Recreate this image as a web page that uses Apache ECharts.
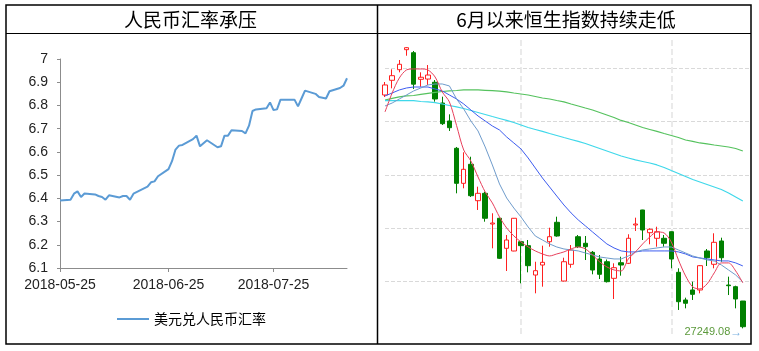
<!DOCTYPE html>
<html><head><meta charset="utf-8">
<script src="https://cdn.jsdelivr.net/npm/echarts@6/dist/echarts.min.js"></script>
<style>html,body{margin:0;padding:0;background:#fff}#c{width:759px;height:351px}</style>
</head><body><div id="c"></div>
<script>
// ---- Left panel: USD/CNY ----
const rateDates = ['2018-05-25','2018-05-28','2018-05-29','2018-05-30','2018-05-31','2018-06-01','2018-06-04','2018-06-05','2018-06-06','2018-06-07','2018-06-08','2018-06-11','2018-06-12','2018-06-13','2018-06-14','2018-06-15','2018-06-19','2018-06-20','2018-06-21','2018-06-22','2018-06-25','2018-06-26','2018-06-27','2018-06-28','2018-06-29','2018-07-02','2018-07-03','2018-07-04','2018-07-05','2018-07-06','2018-07-09','2018-07-10','2018-07-11','2018-07-12','2018-07-13','2018-07-16','2018-07-17','2018-07-18','2018-07-19','2018-07-20','2018-07-23','2018-07-24','2018-07-25','2018-07-26','2018-07-27','2018-07-30','2018-07-31','2018-08-01','2018-08-02','2018-08-03','2018-08-06','2018-08-07','2018-08-08','2018-08-09','2018-08-10','2018-08-13','2018-08-14','2018-08-15'];
const rateValues = [6.391,6.394,6.420,6.430,6.406,6.421,6.417,6.410,6.406,6.394,6.413,6.404,6.410,6.410,6.394,6.420,6.450,6.469,6.473,6.495,6.526,6.560,6.610,6.627,6.630,6.655,6.670,6.624,6.637,6.650,6.620,6.624,6.670,6.670,6.693,6.690,6.680,6.713,6.776,6.783,6.788,6.813,6.780,6.783,6.825,6.825,6.825,6.796,6.830,6.864,6.850,6.836,6.833,6.830,6.861,6.875,6.885,6.917];
const rateTickDates = ['2018-05-25','2018-06-25','2018-07-25'];
const rateSeriesName = '美元兑人民币汇率';

// ---- Right panel: Hang Seng Index daily K ----
const kDates = ['2018-06-04','2018-06-05','2018-06-06','2018-06-07','2018-06-08','2018-06-11','2018-06-12','2018-06-13','2018-06-14','2018-06-15','2018-06-19','2018-06-20','2018-06-21','2018-06-22','2018-06-25','2018-06-26','2018-06-27','2018-06-28','2018-06-29','2018-07-03','2018-07-04','2018-07-05','2018-07-06','2018-07-09','2018-07-10','2018-07-11','2018-07-12','2018-07-13','2018-07-16','2018-07-17','2018-07-18','2018-07-19','2018-07-20','2018-07-23','2018-07-24','2018-07-25','2018-07-26','2018-07-27','2018-07-30','2018-07-31','2018-08-01','2018-08-02','2018-08-03','2018-08-06','2018-08-07','2018-08-08','2018-08-09','2018-08-10','2018-08-13','2018-08-14','2018-08-15',''];
const kOpen  = [30794,31017,31178,31482,31436,31032,31036,30987,30672,30399,29984,29452,29741,29188,29300,28834,28921,28465,28424,28565,28505,28059,28211,28565,28860,27968,28222,28641,28541,28404,28302,28261,28009,28246,28237,28819,29047,28702,28617,28617,28717,28100,27680,27832,27832,28424,28222,28576,27907,27882,27664];
const kClose = [30946,31087,31260,31512,30958,31063,31097,30733,30358,30297,29452,29665,29264,29300,28921,28849,28313,28591,28921,28505,28201,28125,28252,28641,28652,28261,28439,28489,28489,28135,28070,27958,28170,28211,28617,28834,28743,28754,28717,28541,28302,27654,27630,27766,28201,28322,28556,28322,27897,27695,27274];
const kLow   = [30763,30895,31138,31390,30885,30919,30946,30692,30338,30247,29300,29376,29244,29047,28869,28465,28302,28120,28420,27933,28100,27781,27882,28489,28641,27960,28170,28469,28287,28070,27998,27945,27695,28049,28226,28728,28591,28526,28489,28489,28161,27528,27553,27680,27781,28196,28161,28261,27755,27553,27249.08];
const kHigh  = [30991,31184,31325,31521,31462,31138,31249,31021,30768,30500,30004,29923,29856,29401,29325,28997,28930,28667,28925,28570,28591,28261,28505,28778,28945,28322,28515,28667,28652,28424,28363,28295,28237,28337,28678,28930,29050,28769,28793,28667,28720,28161,27715,27958,28211,28454,28693,28626,28034,27897,27665];
const ma5   = [30536,30824,31052,31174,31189,31189,31174,31067,30840,30688,30330,29958,29791,29548,29321,29154,28941,28774,28653,28562,28486,28425,28379,28349,28379,28410,28455,28486,28455,28364,28258,28182,28136,28121,28303,28410,28531,28637,28713,28698,28562,28288,28045,27878,27848,27924,28091,28243,28243,28121,27939];
const ma10  = [30627,30672,30733,30794,30855,30900,30946,30961,30961,30931,30733,30581,30399,30247,30004,29731,29442,29229,29077,28941,28789,28652,28591,28531,28485,28455,28440,28425,28394,28364,28333,28318,28303,28303,28348,28409,28440,28455,28470,28485,28485,28440,28394,28348,28318,28288,28272,28212,28136,28060,27953];
const ma20  = [30779,30824,30870,30900,30915,30915,30915,30885,30855,30794,30733,30657,30566,30475,30399,30323,30262,30156,30065,29974,29837,29685,29533,29396,29259,29123,29002,28896,28805,28713,28622,28531,28470,28425,28410,28410,28425,28425,28425,28425,28425,28410,28379,28334,28318,28303,28288,28273,28273,28243,28197];
const ma60  = [30707,30707,30707,30707,30707,30695,30688,30677,30657,30634,30612,30589,30558,30528,30498,30467,30437,30407,30376,30338,30300,30270,30240,30209,30179,30148,30118,30088,30057,30019,29981,29943,29905,29867,29837,29807,29784,29761,29731,29693,29647,29602,29556,29510,29472,29434,29396,29358,29305,29245,29184];
const ma120 = [30718,30741,30764,30779,30786,30802,30817,30832,30847,30855,30862,30870,30870,30870,30865,30859,30852,30840,30824,30809,30794,30771,30748,30733,30710,30688,30657,30627,30596,30566,30528,30490,30452,30407,30376,30338,30300,30270,30240,30209,30179,30148,30110,30088,30065,30050,30034,30019,30004,29981,29943];
const lowIndex = 50;
const lowValue = 27249.08;
const monthStartIdx = [19, 40];

const chart = echarts.init(document.getElementById('c'), null, {renderer: 'canvas'});
const latin = 'Liberation Sans, Arial, sans-serif';
const cjk = '"Noto Sans CJK SC", sans-serif';

chart.setOption({
  animation: false,
  backgroundColor: '#ffffff',
  graphic: [
    {type: 'rect', shape: {x: 6, y: 5, width: 745, height: 339}, style: {fill: 'none', stroke: '#000', lineWidth: 1.5}, z: 100},
    {type: 'line', shape: {x1: 377.5, y1: 5, x2: 377.5, y2: 344}, style: {stroke: '#000', lineWidth: 1.5}, z: 100},
    {type: 'line', shape: {x1: 6, y1: 33.5, x2: 751, y2: 33.5}, style: {stroke: '#000', lineWidth: 1.2}, z: 100},
    {type: 'text', x: 190.5, y: 19.5, style: {text: '人民币汇率承压', font: '19px ' + cjk, fill: '#000', textAlign: 'center', textVerticalAlign: 'middle'}, z: 100},
    {type: 'text', x: 566, y: 19.5, style: {text: '6月以来恒生指数持续走低', font: '19px ' + cjk, fill: '#000', textAlign: 'center', textVerticalAlign: 'middle'}, z: 100}
  ],
  legend: {
    data: [{name: rateSeriesName, icon: 'rect'}], left: 112, top: 307, itemWidth: 32, itemHeight: 2, itemGap: 5,
    itemStyle: {color: '#5B9BD5'},
    textStyle: {fontSize: 14, color: '#000', fontFamily: cjk}
  },
  grid: [
    {left: 60, top: 59, width: 287, height: 209},
    {left: 385, top: 40, width: 365, height: 295}
  ],
  xAxis: [
    {
      type: 'time', gridIndex: 0, min: rateDates[0], max: rateDates[rateDates.length - 1],
      axisLine: {show: true, lineStyle: {color: '#8c8c8c', width: 1}},
      axisTick: {show: true, customValues: rateTickDates, length: 4, lineStyle: {color: '#8c8c8c'}},
      axisLabel: {customValues: rateTickDates, formatter: '{yyyy}-{MM}-{dd}', fontSize: 14, color: '#222', fontFamily: latin, margin: 10, hideOverlap: false},
      splitLine: {show: false}
    },
    {
      type: 'category', gridIndex: 1, data: kDates, boundaryGap: false,
      axisLine: {show: false}, axisTick: {show: false}, axisLabel: {show: false},
      splitLine: {show: true, interval: function (i) { return monthStartIdx.indexOf(i) >= 0; }, lineStyle: {color: '#e3e3e3', type: 'dashed', width: 1.5}}
    }
  ],
  yAxis: [
    {
      type: 'value', gridIndex: 0, min: 6.1, max: 7, interval: 0.1,
      axisLine: {show: true, lineStyle: {color: '#8c8c8c'}},
      axisTick: {show: true, length: 3, lineStyle: {color: '#8c8c8c'}},
      axisLabel: {fontSize: 14, color: '#222', fontFamily: latin, margin: 12},
      splitLine: {show: false}
    },
    {type: 'value', gridIndex: 1, min: 27148, max: 31629, show: false, scale: true},
    {
      type: 'value', gridIndex: 1, min: 0, max: 5.53, interval: 1,
      axisLine: {show: false}, axisTick: {show: false}, axisLabel: {show: false},
      splitLine: {show: true, showMinLine: false, showMaxLine: false, lineStyle: {color: '#d9d9d9', type: 'dashed', width: 1}}
    }
  ],
  series: [
    {
      name: rateSeriesName, type: 'line', xAxisIndex: 0, yAxisIndex: 0,
      data: rateDates.map(function (d, i) { return [d, rateValues[i]]; }),
      symbol: 'none', lineStyle: {color: '#5B9BD5', width: 2}, itemStyle: {color: '#5B9BD5'}
    },
    {
      name: 'HSI', type: 'candlestick', xAxisIndex: 1, yAxisIndex: 1, barWidth: 5, clip: true,
      data: kOpen.map(function (o, i) { return [o, kClose[i], kLow[i], kHigh[i]]; }),
      itemStyle: {color: '#ffffff', color0: '#008000', borderColor: '#ff2020', borderColor0: '#008000', borderWidth: 1},
      markPoint: {
        symbol: 'circle', symbolSize: 1, itemStyle: {color: 'rgba(0,0,0,0)'},
        data: [{coord: [lowIndex, lowValue], value: lowValue}],
        label: {
          show: true, position: 'left', distance: 0, offset: [0, 4],
          formatter: function (p) { return '{t|' + p.value.toFixed(2) + '}{a|→}'; },
          rich: {t: {color: '#5c9a3c', fontSize: 11, fontFamily: latin}, a: {color: '#7ab0e0', fontSize: 12, fontFamily: latin}}
        }
      }
    },
    {name: 'MA120', type: 'line', xAxisIndex: 1, yAxisIndex: 1, data: ma120, symbol: 'none', lineStyle: {color: '#55c25e', width: 1.2}},
    {name: 'MA60', type: 'line', xAxisIndex: 1, yAxisIndex: 1, data: ma60, symbol: 'none', lineStyle: {color: '#3fd8ea', width: 1.2}},
    {name: 'MA20', type: 'line', xAxisIndex: 1, yAxisIndex: 1, data: ma20, symbol: 'none', lineStyle: {color: '#3d5cf0', width: 1}},
    {name: 'MA10', type: 'line', xAxisIndex: 1, yAxisIndex: 1, data: ma10, symbol: 'none', lineStyle: {color: '#6f9ccc', width: 1}},
    {name: 'MA5', type: 'line', xAxisIndex: 1, yAxisIndex: 1, data: ma5, symbol: 'none', smooth: 0.3, lineStyle: {color: '#e8405c', width: 1}}
  ]
});
</script>
</body></html>
